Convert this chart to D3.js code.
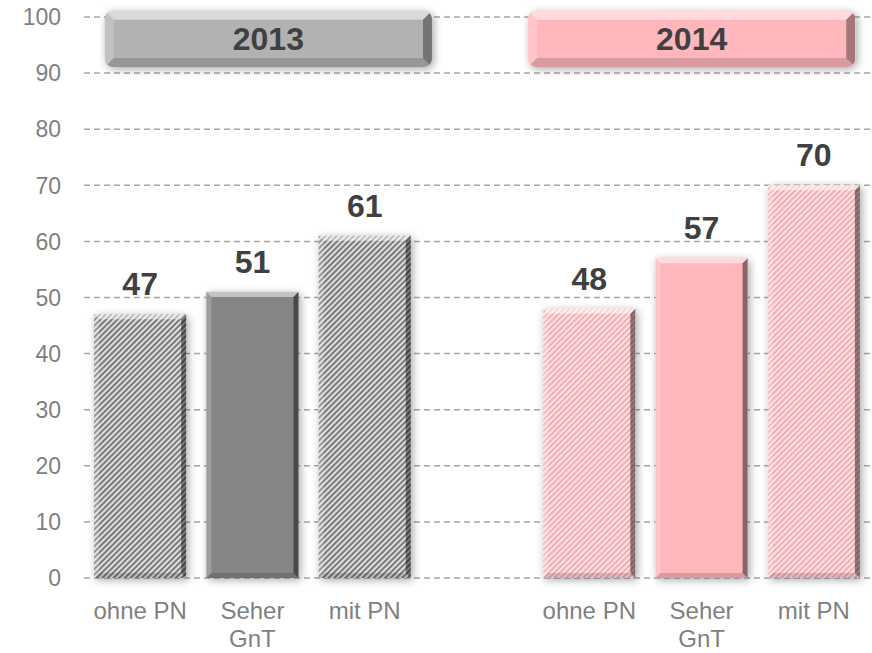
<!DOCTYPE html>
<html>
<head>
<meta charset="utf-8">
<script src="https://cdn.jsdelivr.net/npm/d3@7"></script>
<style>
  body { margin: 0; background: #fff; }
  svg text { font-family: "Liberation Sans", Arial, sans-serif; }
</style>
</head>
<body>
<div id="chart"></div>
<script>
const years = ["2013", "2014"]
const categories = ["ohne PN", "Seher GnT", "mit PN"]
const values2013 = [47, 51, 61]
const values2014 = [48, 57, 70]
const yTicks = [0, 10, 20, 30, 40, 50, 60, 70, 80, 90, 100]

const width = 872
const height = 653

const svg = d3.select("#chart").append("svg")
  .attr("width", width)
  .attr("height", height)

const defs = svg.append("defs")

// hatch patterns
const hatch = (id, bg, fg) => {
  const p = defs.append("pattern")
    .attr("id", id)
    .attr("patternUnits", "userSpaceOnUse")
    .attr("width", 4).attr("height", 4)
    .attr("patternTransform", "rotate(45)")
  p.append("rect").attr("width", 4).attr("height", 4).attr("fill", bg)
  p.append("rect").attr("width", 2).attr("height", 4).attr("fill", fg)
}
hatch("hatch-gray", "#dedede", "#7a7a7a")
hatch("hatch-pink", "#ffe2e4", "#f3adb2")

const shadow = defs.append("filter").attr("id", "shadow")
  .attr("x", "-20%").attr("y", "-20%").attr("width", "140%").attr("height", "140%")
shadow.append("feDropShadow")
  .attr("dx", 2).attr("dy", 2).attr("stdDeviation", 4)
  .attr("flood-color", "#000").attr("flood-opacity", 0.35)

const yearStyle = {
  "2013": { solid: "#858585", hatch: "url(#hatch-gray)", head: "#b2b2b2" },
  "2014": { solid: "#ffb7bb", hatch: "url(#hatch-pink)", head: "#ffb7bb" }
}

// rows: one per bar, with an empty slot between the years
const rows = []
years.forEach((yr, yi) => {
  const vals = yi === 0 ? values2013 : values2014
  categories.forEach((c, i) => rows.push({ key: yr + "|" + c, year: yr, cat: c, value: vals[i], idx: i }))
  if (yi === 0) rows.push({ key: "gap", year: null })
})
const bars = rows.filter(d => d.year)

const y = d3.scaleLinear().domain([0, 100]).range([578, 17])
const x = d3.scaleBand().domain(rows.map(d => d.key)).range([84, 870])
  .paddingInner(0.18).paddingOuter(0.09)
const xHead = d3.scaleBand().domain(years).range([84, 870])
  .paddingInner(0.227).paddingOuter(0.042)

// grid + y tick labels
svg.append("g").selectAll("line")
  .data(yTicks)
  .join("line")
    .attr("x1", 84).attr("x2", 870)
    .attr("y1", d => y(d)).attr("y2", d => y(d))
    .attr("stroke", "#a6a6a6")
    .attr("stroke-width", 1.5)
    .attr("stroke-dasharray", "6,4")

svg.append("g").attr("text-anchor", "end")
  .selectAll("text")
  .data(yTicks)
  .join("text")
    .attr("x", 61)
    .attr("y", d => y(d))
    .attr("dy", "0.36em")
    .attr("fill", "#7f7f7f")
    .style("font-size", "23px")
    .text(d => d)

// bevel overlay for a box
const bevel = (g, x0, y0, w, h, b, dark) => {
  const pts = [
    [[x0, y0], [x0 + w, y0], [x0 + w - b, y0 + b], [x0 + b, y0 + b], "#fff", 0.5],
    [[x0, y0], [x0 + b, y0 + b], [x0 + b, y0 + h - b], [x0, y0 + h], "#fff", 0.2],
    [[x0 + w, y0], [x0 + w, y0 + h], [x0 + w - b, y0 + h - b], [x0 + w - b, y0 + b], "#000", dark],
    [[x0, y0 + h], [x0 + b, y0 + h - b], [x0 + w - b, y0 + h - b], [x0 + w, y0 + h], "#000", 0.15]
  ]
  g.selectAll("polygon.bv")
    .data(pts)
    .join("polygon")
      .attr("class", "bv")
      .attr("points", d => d.slice(0, 4).map(p => p.join(",")).join(" "))
      .attr("fill", d => d[4])
      .attr("fill-opacity", d => d[5])
}

// bars
const barG = svg.append("g").selectAll("g")
  .data(bars)
  .join("g")

barG.append("rect")
  .attr("x", d => x(d.key))
  .attr("y", d => y(d.value))
  .attr("width", x.bandwidth())
  .attr("height", d => y(0) - y(d.value))
  .attr("fill", d => d.idx === 1 ? yearStyle[d.year].solid : yearStyle[d.year].hatch)
  .attr("filter", "url(#shadow)")

barG.each(function(d) {
  bevel(d3.select(this), x(d.key), y(d.value), x.bandwidth(), y(0) - y(d.value), 5, 0.45)
})

barG.append("text")
  .attr("x", d => x(d.key) + x.bandwidth() / 2)
  .attr("y", d => y(d.value) - 19)
  .attr("text-anchor", "middle")
  .attr("fill", "#404040")
  .style("font-size", "32px")
  .style("font-weight", "bold")
  .text(d => d.value)

// category labels
const catLab = svg.append("g").selectAll("text")
  .data(bars)
  .join("text")
    .attr("x", d => x(d.key) + x.bandwidth() / 2)
    .attr("y", 619)
    .attr("text-anchor", "middle")
    .attr("fill", "#7f7f7f")
    .style("font-size", "24px")

catLab.selectAll("tspan")
  .data(d => d.cat === "Seher GnT" ? ["Seher", "GnT"] : [d.cat])
  .join("tspan")
    .attr("x", function() { return d3.select(this.parentNode).attr("x") })
    .attr("dy", (d, i) => i ? 28 : 0)
    .text(d => d)

// year header boxes
const head = svg.append("g").selectAll("g")
  .data(years)
  .join("g")

head.each(function(yr, i) {
  const g = d3.select(this)
  const x0 = xHead(yr) + 3, w = xHead.bandwidth()
  const y0 = y(101.1), h = y(91.1) - y(101.1)
  defs.append("clipPath").attr("id", "clip-head-" + i)
    .append("rect").attr("x", x0).attr("y", y0).attr("width", w).attr("height", h).attr("rx", 8)
  g.append("rect")
    .attr("x", x0).attr("y", y0).attr("width", w).attr("height", h).attr("rx", 8)
    .attr("fill", yearStyle[yr].head)
    .attr("filter", "url(#shadow)")
  const bg = g.append("g").attr("clip-path", `url(#clip-head-${i})`)
  bevel(bg, x0, y0, w, h, 9, 0.35)
  g.append("text")
    .attr("x", x0 + w / 2)
    .attr("y", y0 + h / 2)
    .attr("dy", "0.36em")
    .attr("text-anchor", "middle")
    .attr("fill", "#404040")
    .style("font-size", "32px")
    .style("font-weight", "bold")
    .text(yr)
})
</script>
</body>
</html>
